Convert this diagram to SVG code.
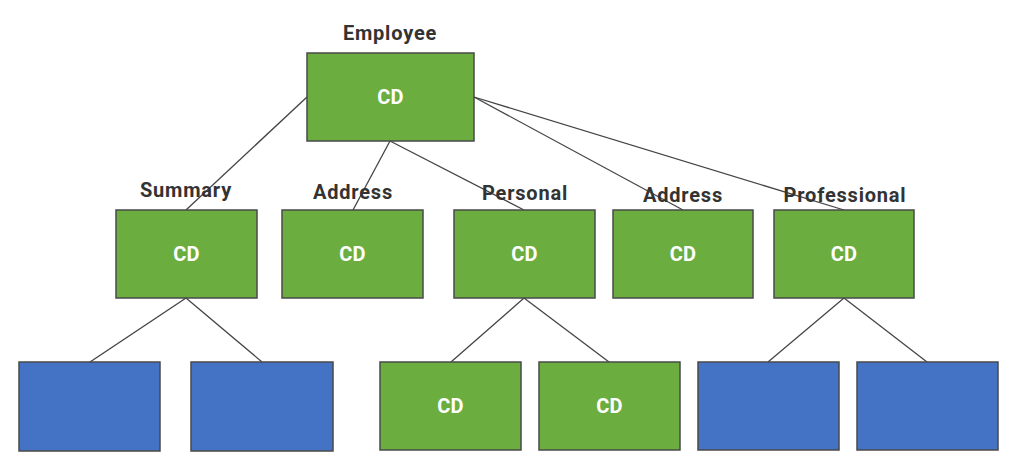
<svg xmlns="http://www.w3.org/2000/svg" width="1009" height="461" viewBox="0 0 1009 461">
  <style>
    .cd { fill: #6cad3f; stroke: #4a4a4a; stroke-width: 1.5; }
    .leaf { fill: #4472c4; stroke: #4a4a4a; stroke-width: 1.5; }
    .lbl { font-family: Roboto, "Liberation Sans", sans-serif; font-weight: bold; font-size: 20px; letter-spacing: 0.8px; fill: #333333; text-anchor: middle; }
    .in { font-family: Roboto, "Liberation Sans", sans-serif; font-weight: bold; font-size: 20px; letter-spacing: 0.3px; fill: #ffffff; text-anchor: middle; }
    .edge { stroke: #444444; stroke-width: 1.3; fill: none; }
  </style>
  <rect width="1009" height="461" fill="#ffffff"/>

  <!-- connectors -->
  <g id="connectors">
    <line class="edge" x1="307" y1="97" x2="186" y2="210"/>
    <line class="edge" x1="390" y1="141" x2="353" y2="210"/>
    <line class="edge" x1="390" y1="141" x2="524" y2="210"/>
    <line class="edge" x1="474" y1="97" x2="683" y2="210"/>
    <line class="edge" x1="474" y1="97" x2="844" y2="210"/>
    <line class="edge" x1="186" y1="298" x2="90" y2="362"/>
    <line class="edge" x1="186" y1="298" x2="262" y2="362"/>
    <line class="edge" x1="524" y1="298" x2="451" y2="362"/>
    <line class="edge" x1="524" y1="298" x2="609" y2="362"/>
    <line class="edge" x1="844" y1="298" x2="768" y2="362"/>
    <line class="edge" x1="844" y1="298" x2="927" y2="362"/>
  </g>

  <!-- root -->
  <g id="employee">
    <text class="lbl" x="390" y="40">Employee</text>
    <rect class="cd" x="307" y="53" width="167" height="88"/>
    <text class="in" x="390.5" y="104">CD</text>
  </g>

  <!-- second level -->
  <g id="summary">
    <text class="lbl" x="186" y="197">Summary</text>
    <rect class="cd" x="116" y="210" width="141" height="88"/>
    <text class="in" x="186.5" y="261">CD</text>
  </g>
  <g id="address1">
    <text class="lbl" x="353" y="199">Address</text>
    <rect class="cd" x="282" y="210" width="141" height="88"/>
    <text class="in" x="352.5" y="261">CD</text>
  </g>
  <g id="personal">
    <text class="lbl" x="525" y="200">Personal</text>
    <rect class="cd" x="454" y="210" width="141" height="88"/>
    <text class="in" x="524.5" y="261">CD</text>
  </g>
  <g id="address2">
    <text class="lbl" x="683" y="202">Address</text>
    <rect class="cd" x="613" y="210" width="140" height="88"/>
    <text class="in" x="683" y="261">CD</text>
  </g>
  <g id="professional">
    <text class="lbl" x="845" y="202">Professional</text>
    <rect class="cd" x="774" y="210" width="140" height="88"/>
    <text class="in" x="844" y="261">CD</text>
  </g>

  <!-- third level -->
  <g id="summary-leaf1">
    <rect class="leaf" x="19" y="362" width="141" height="89"/>
  </g>
  <g id="summary-leaf2">
    <rect class="leaf" x="191" y="362" width="142" height="89"/>
  </g>
  <g id="personal-cd1">
    <rect class="cd" x="380" y="362" width="141" height="88"/>
    <text class="in" x="450.5" y="413">CD</text>
  </g>
  <g id="personal-cd2">
    <rect class="cd" x="539" y="362" width="141" height="88"/>
    <text class="in" x="609.5" y="413">CD</text>
  </g>
  <g id="professional-leaf1">
    <rect class="leaf" x="698" y="362" width="141" height="88"/>
  </g>
  <g id="professional-leaf2">
    <rect class="leaf" x="857" y="362" width="141" height="88"/>
  </g>
</svg>
